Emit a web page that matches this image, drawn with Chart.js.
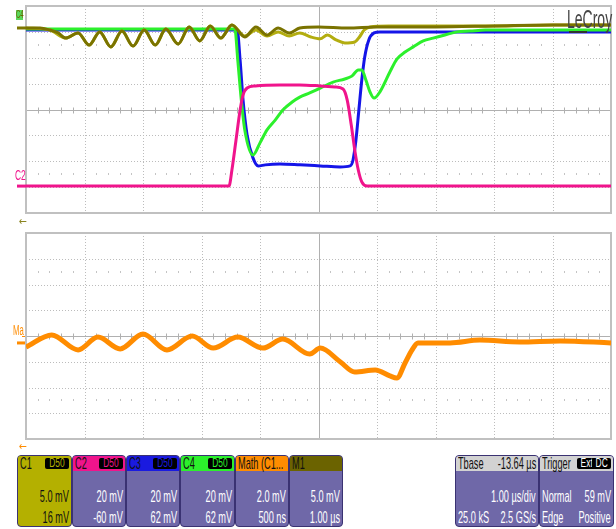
<!DOCTYPE html>
<html>
<head>
<meta charset="utf-8">
<script src="https://cdn.jsdelivr.net/npm/chart.js@4.4.1/dist/chart.umd.min.js"></script>
<style>
body{margin:0;background:#fff;width:616px;height:529px;position:relative;overflow:hidden;font-family:"Liberation Sans",Arial,sans-serif}
canvas{position:absolute;left:0}
#top{top:0}
#bot{top:228px}
.box{position:absolute;top:455px;height:70px;border:1px solid #3a3272;border-radius:4px;background:#6f68a8;color:#fff;overflow:hidden}
.hd{position:absolute;left:0;right:0;top:0;height:15px}
.t{position:absolute;font-size:17px;line-height:16px;white-space:nowrap;transform:scaleX(.54)}
.l{transform-origin:left center}
.r{transform-origin:right center}
.badge{position:absolute;top:2px;height:11px;background:#000;border-radius:2px;font-size:12px;line-height:11px;padding:0 1px;white-space:nowrap}
.badge span{display:inline-block;transform:scaleX(.7);transform-origin:center}
#logo{position:absolute;left:567px;top:6px;font-size:25px;line-height:26px;color:#444;transform:scaleX(.56);transform-origin:left top}
#logoBar{position:absolute;left:569px;top:31px;width:18px;height:2px;background:#333}
</style>
</head>
<body>
<canvas id="top" width="616" height="226"></canvas>
<canvas id="bot" width="616" height="222"></canvas>
<div id="logo">LeCroy</div>
<div id="logoBar"></div>
<script>
// time in divisions (1.00 us/div), amplitude in divisions
const m1Time = [0,0.24,0.41,0.55,0.68,0.89,1.08,1.26,1.45,1.64,1.83,2.02,2.21,2.39,2.60,2.79,2.97,3.15,3.33,3.52,3.74,3.93,4.12,4.31,4.50,4.68,5.0,5.5,6.0,7.0,8.0,9.0,10]
const m1Vals = [3.15,3.15,3.07,2.96,2.76,2.96,2.49,3.0,2.42,3.03,2.45,3.07,2.49,3.11,2.53,3.19,2.65,3.23,2.76,3.27,2.80,3.19,2.88,3.15,2.96,3.15,3.19,3.15,3.19,3.19,3.23,3.27,3.27]

const c1Time = [0,0.41,0.68,0.89,1.08,1.26,1.45,1.64,1.83,2.02,2.21,2.39,2.60,2.79,2.97,3.15,3.33,3.52,3.74,3.93,4.12,4.31,4.50,4.68,4.87,5.03,5.15,5.30,5.45,5.62,5.70,5.78,5.88,6.2,7,8,9,10]
const c1Vals = [3.15,3.07,2.76,2.96,2.49,3.0,2.42,3.03,2.45,3.07,2.49,3.11,2.53,3.19,2.65,3.23,2.76,3.27,2.84,3.07,2.84,3.0,2.84,2.96,2.80,2.73,2.88,2.69,2.57,2.61,2.80,3.07,3.19,3.23,3.23,3.23,3.27,3.27]

const c2Time = [0,3.47,3.52,3.59,3.66,3.71,3.78,3.92,4.34,4.68,5.03,5.28,5.42,5.49,5.56,5.62,5.68,5.74,5.83,7,8.5,10]
const c2Vals = [-2.96,-2.96,-2.34,-1.18,-0.02,0.56,0.83,0.91,0.95,0.95,0.91,0.87,0.79,0.37,-0.60,-1.57,-2.34,-2.80,-2.96,-2.96,-2.96,-2.96]

const c3Time = [0,3.61,3.66,3.71,3.78,3.88,3.97,4.09,4.34,4.68,5.03,5.37,5.54,5.59,5.64,5.69,5.74,5.79,5.86,5.95,6.05,8,10]
const c3Vals = [3.07,3.07,1.91,0.37,-0.99,-1.87,-2.18,-2.14,-2.11,-2.14,-2.18,-2.22,-2.18,-1.95,-1.18,-0.02,1.14,2.03,2.69,2.96,3.0,3.0,3.0]

const c4Time = [0,3.57,3.62,3.68,3.74,3.88,4.0,4.12,4.26,4.39,4.55,4.68,4.85,5.03,5.25,5.45,5.57,5.68,5.74,5.81,5.88,5.95,6.05,6.22,6.34,6.48,6.62,6.79,6.96,7.16,7.37,7.59,7.85,10]
const c4Vals = [3.11,3.11,1.91,0.37,-0.79,-1.76,-1.29,-0.79,-0.41,-0.02,0.29,0.48,0.64,0.83,1.06,1.18,1.29,1.53,1.53,1.14,0.68,0.44,0.68,1.45,1.95,2.22,2.42,2.65,2.76,2.88,3.0,3.03,3.07,3.07]

const mathTime = [0,0.44,0.89,1.23,1.61,2.0,2.41,2.84,3.20,3.62,4.05,4.39,4.85,5.03,5.37,5.62,5.97,6.22,6.34,6.48,6.60,6.70,7.25,7.76,8.44,9.13,10]
const mathVals = [-0.43,0.04,-0.54,-0.04,-0.50,0.08,-0.54,0.0,-0.47,-0.04,-0.47,-0.12,-0.70,-0.47,-1.0,-1.40,-1.32,-1.55,-1.63,-1.05,-0.54,-0.27,-0.27,-0.16,-0.23,-0.19,-0.27]

// trace offset markers (divisions)
const c1Level = 3.15
const c2Level = -2.96
const mathLevel = -0.27

const pts = (t, v) => t.map((x, i) => ({x: x, y: v[i]}))

function narrowText(ctx, txt, x, y, font, sx){
ctx.save()
ctx.font = font
ctx.translate(x, y)
ctx.scale(sx, 1)
ctx.fillText(txt, 0, 0)
ctx.restore()
}

const gridPlugin = {
id: "scopeGrid",
beforeDatasetsDraw(chart) {
const ctx = chart.ctx
const a = chart.chartArea
const xs = chart.scales.x, ys = chart.scales.y
ctx.save()
ctx.lineWidth = 1
ctx.strokeStyle = "#bcbcbc"
ctx.setLineDash([1, 2])
for (let i = 1; i < 10; i++) {
if (i == 5) continue
let px = Math.round(xs.getPixelForValue(i)) + 0.5
ctx.beginPath(); ctx.moveTo(px, a.top); ctx.lineTo(px, a.bottom); ctx.stroke()
}
for (let j = -3; j <= 3; j++) {
if (j == 0) continue
let py = Math.round(ys.getPixelForValue(j)) + 0.5
ctx.beginPath(); ctx.moveTo(a.left, py); ctx.lineTo(a.right, py); ctx.stroke()
}
ctx.setLineDash([])
ctx.strokeStyle = "#b0b0b0"
let cx = Math.round(xs.getPixelForValue(5)) + 0.5
let cy = Math.round(ys.getPixelForValue(0)) + 0.5
ctx.beginPath(); ctx.moveTo(cx, a.top); ctx.lineTo(cx, a.bottom); ctx.stroke()
ctx.beginPath(); ctx.moveTo(a.left, cy); ctx.lineTo(a.right, cy); ctx.stroke()
// minor ticks on the centre line and the +-2.5 div rows
for (let k = 1; k < 50; k++) {
if (k % 5 == 0) continue
let px = Math.round(xs.getPixelForValue(k * 0.2)) + 0.5
ctx.strokeStyle = "#b0b0b0"
ctx.beginPath(); ctx.moveTo(px, cy - 3); ctx.lineTo(px, cy + 3); ctx.stroke()
ctx.strokeStyle = "#c4c4c4"
for (const r of [2.5, -2.5]) {
let py = Math.round(ys.getPixelForValue(r))
ctx.beginPath(); ctx.moveTo(px, py - 1); ctx.lineTo(px, py + 1); ctx.stroke()
}
}
ctx.strokeStyle = "#c0c0c0"
ctx.lineWidth = 2
ctx.strokeRect(a.left, a.top, a.right - a.left, a.bottom - a.top)
ctx.restore()
}
}

const topLabels = {
id: "topLabels",
afterDraw(chart) {
const ctx = chart.ctx
const ys = chart.scales.y
ctx.save()
ctx.fillStyle = "#7d7700"
ctx.fillRect(17, ys.getPixelForValue(c1Level) - 1.5, 9, 3)
ctx.fillStyle = "#5ad85a"
ctx.fillRect(16, 10, 7, 10)
ctx.fillStyle = "#6b6300"
narrowText(ctx, "C4", 16, 18, '10px "Liberation Sans", sans-serif', 0.6)
ctx.fillStyle = "#f0148c"
ctx.fillRect(17, ys.getPixelForValue(c2Level) - 1.5, 9, 3)
narrowText(ctx, "C2", 15, 180, '14px "Liberation Sans", sans-serif', 0.6)
ctx.fillStyle = "#8a8420"
narrowText(ctx, "\u2190", 19, 225, '12px "DejaVu Sans", sans-serif', 0.8)
ctx.restore()
}
}

const botLabels = {
id: "botLabels",
afterDraw(chart) {
const ctx = chart.ctx
const ys = chart.scales.y
ctx.save()
ctx.fillStyle = "#ff8c00"
ctx.fillRect(17, ys.getPixelForValue(mathLevel) - 1.5, 8, 3)
narrowText(ctx, "Ma", 13, 107, '14px "Liberation Sans", sans-serif', 0.55)
ctx.fillRect(22, 108, 3, 1)
narrowText(ctx, "\u2190", 19, 222, '12px "DejaVu Sans", sans-serif', 0.8)
ctx.restore()
}
}

function scaleOpts(){
return {
x: {type: "linear", min: 0, max: 10, display: false},
y: {type: "linear", min: -4, max: 4, display: false}
}
}

function trace(label, t, v, color, width){
return {label: label, data: pts(t, v), borderColor: color, borderWidth: width, pointRadius: 0, tension: 0, cubicInterpolationMode: "monotone", fill: false}
}

new Chart(document.getElementById("top"), {
type: "line",
data: {
datasets: [
trace("M1", m1Time, m1Vals, "#7a7300", 3),
trace("C1", c1Time, c1Vals, "#b3ad10", 3),
trace("C2", c2Time, c2Vals, "#f0148c", 3),
trace("C4", c4Time, c4Vals, "#2cf02c", 3),
trace("C3", c3Time, c3Vals, "#1515e8", 3)
]
},
options: {
responsive: false,
animation: false,
layout: {padding: {left: 26, right: 5, top: 6, bottom: 13}},
plugins: {legend: {display: false}, tooltip: {enabled: false}},
scales: scaleOpts()
},
plugins: [gridPlugin, topLabels]
})

new Chart(document.getElementById("bot"), {
type: "line",
data: {
datasets: [trace("Math", mathTime, mathVals, "#ff8c00", 5)]
},
options: {
responsive: false,
animation: false,
layout: {padding: {left: 26, right: 5, top: 5, bottom: 11}},
plugins: {legend: {display: false}, tooltip: {enabled: false}},
scales: scaleOpts()
},
plugins: [gridPlugin, botLabels]
})

// channel descriptor boxes under the grid
const boxes = [
{left: 17, w: 53, name: "C1", head: "#b4b000", body: "#b4b000", ink: "#111", badge: true, l1: "5.0 mV", l2: "16 mV"},
{left: 72, w: 52, name: "C2", head: "#f0148c", ink: "#fff", badge: true, l1: "20 mV", l2: "-60 mV"},
{left: 126, w: 52, name: "C3", head: "#1a1ae0", ink: "#fff", badge: true, l1: "20 mV", l2: "62 mV"},
{left: 180, w: 53, name: "C4", head: "#2cf02c", ink: "#fff", badge: true, l1: "20 mV", l2: "62 mV"},
{left: 235, w: 52, name: "Math  (C1...", head: "#ff8c00", ink: "#fff", badge: false, l1: "2.0 mV", l2: "500 ns"},
{left: 289, w: 52, name: "M1", head: "#6b6300", ink: "#fff", badge: false, l1: "5.0 mV", l2: "1.00 \u00b5s"}
]

function addText(parent, txt, x, y, right, color){
let s = document.createElement("div")
s.className = "t " + (right ? "r" : "l")
s.textContent = txt
s.style.top = y + "px"
if (right) s.style.right = x + "px"; else s.style.left = x + "px"
if (color) s.style.color = color
parent.appendChild(s)
return s
}

function addBadge(parent, txt, right, color){
let g = document.createElement("div")
g.className = "badge"
g.style.right = right + "px"
g.style.color = color
g.innerHTML = "<span>" + txt + "</span>"
parent.appendChild(g)
}

boxes.forEach(b => {
let d = document.createElement("div")
d.className = "box"
d.style.left = b.left + "px"
d.style.width = b.w + "px"
if (b.body) d.style.background = b.body
let h = document.createElement("div")
h.className = "hd"
h.style.background = b.head
d.appendChild(h)
addText(d, b.name, 2, 0, false, "#111")
if (b.badge) addBadge(d, "D50", 2, b.head)
addText(d, b.l1, 2, 33, true, b.ink)
addText(d, b.l2, 2, 54, true, b.ink)
document.body.appendChild(d)
})

// timebase and trigger boxes
let tb = document.createElement("div")
tb.className = "box"
tb.style.left = "455px"; tb.style.width = "82px"
tb.innerHTML = '<div class="hd" style="background:#d2d2d2"></div>'
addText(tb, "Tbase", 2, 0, false, "#111")
addText(tb, "-13.64 \u00b5s", 2, 0, true, "#111")
addText(tb, "1.00 \u00b5s/div", 2, 33, true)
addText(tb, "25.0 kS", 2, 54, false)
addText(tb, "2.5 GS/s", 2, 54, true)
document.body.appendChild(tb)

let tr = document.createElement("div")
tr.className = "box"
tr.style.left = "539px"; tr.style.width = "73px"
tr.innerHTML = '<div class="hd" style="background:#d2d2d2"></div>'
addBadge(tr, "Ext", 17, "#fff")
addBadge(tr, "DC", 2, "#fff")
addText(tr, "Trigger", 2, 0, false, "#111")
addText(tr, "Normal", 2, 33, false)
addText(tr, "59 mV", 2, 33, true)
addText(tr, "Edge", 2, 54, false)
addText(tr, "Positive", 2, 54, true)
document.body.appendChild(tr)
</script>
</body>
</html>
